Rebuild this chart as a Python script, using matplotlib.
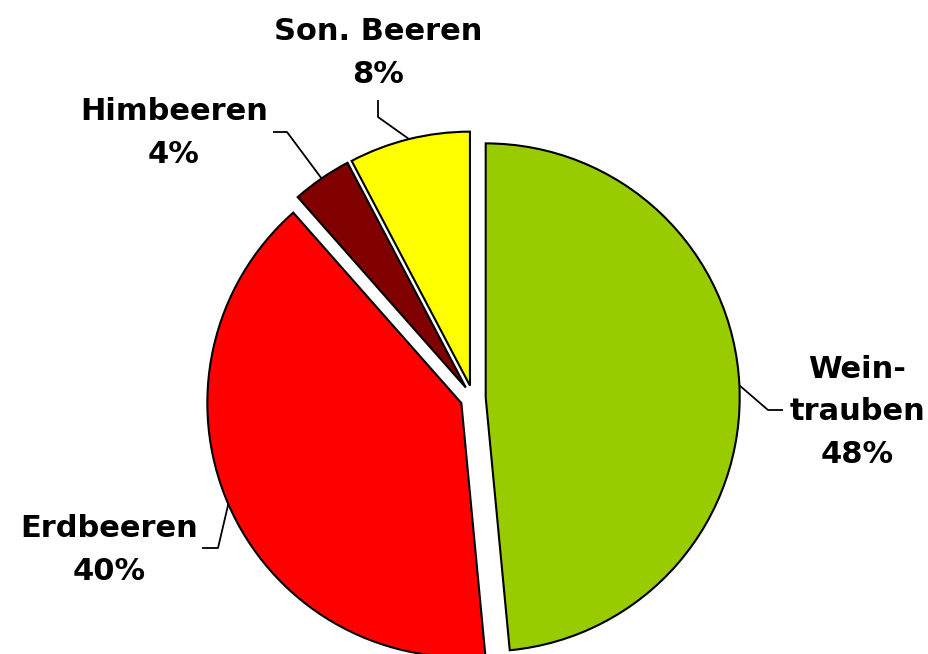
import numpy as np
import matplotlib
matplotlib.use("Agg")
import matplotlib.pyplot as plt

# =========================================================
# DATA
labels = ["Wein-\ntrauben", "Erdbeeren", "Himbeeren", "Son. Beeren"]
shares = [48.49, 40.0, 3.8, 7.71]
colors = ["#99CC00", "#FF0000", "#800000", "#FFFF00"]

# =========================================================
# LAYOUT (pixels of the 929x654 canvas)
W, H = 929, 654
CX, CY, R_PX = 473, 398, 254


def px(x, y):
    # canvas pixel -> data units (pie radius = 1)
    return (x - CX) / R_PX, (CY - y) / R_PX


# label block centre, line start, elbow
label_layout = [
    ((857, 412), (783, 410), (768, 410)),
    ((109, 550), (202, 548), (218, 548)),
    ((174, 133), (273, 132), (287, 132)),
    ((378, 53), (378, 100), (378, 117)),
]

fig = plt.figure(figsize=(W / 100, H / 100), dpi=100)
ax = fig.add_axes([0, 0, 1, 1])

wedges, _ = ax.pie(shares, colors=colors, startangle=90, counterclock=False,
                   explode=[0.05] * len(shares), radius=1.0,
                   wedgeprops=dict(edgecolor="black", linewidth=1.5))

for w, lab, share, (tpos, start, elbow) in zip(wedges, labels, shares, label_layout):
    mid = np.deg2rad((w.theta1 + w.theta2) / 2)
    ax_x = w.center[0] + w.r * np.cos(mid)
    ax_y = w.center[1] + w.r * np.sin(mid)
    sx, sy = px(*start)
    ex, ey = px(*elbow)
    ax.plot([sx, ex, ax_x], [sy, ey, ax_y], color="black", lw=1.3,
            solid_capstyle="butt")
    tx, ty = px(*tpos)
    ax.text(tx, ty, f"{lab}\n{share:.0f}%", ha="center", va="center",
            fontsize=22, fontweight="bold", linespacing=1.6,
            family="DejaVu Sans")

x0, y0 = px(0, H)
x1, y1 = px(W, 0)
ax.set_xlim(x0, x1)
ax.set_ylim(y0, y1)
ax.set_aspect("auto")
ax.axis("off")

fig.savefig("out.png", dpi=100, facecolor="white")
